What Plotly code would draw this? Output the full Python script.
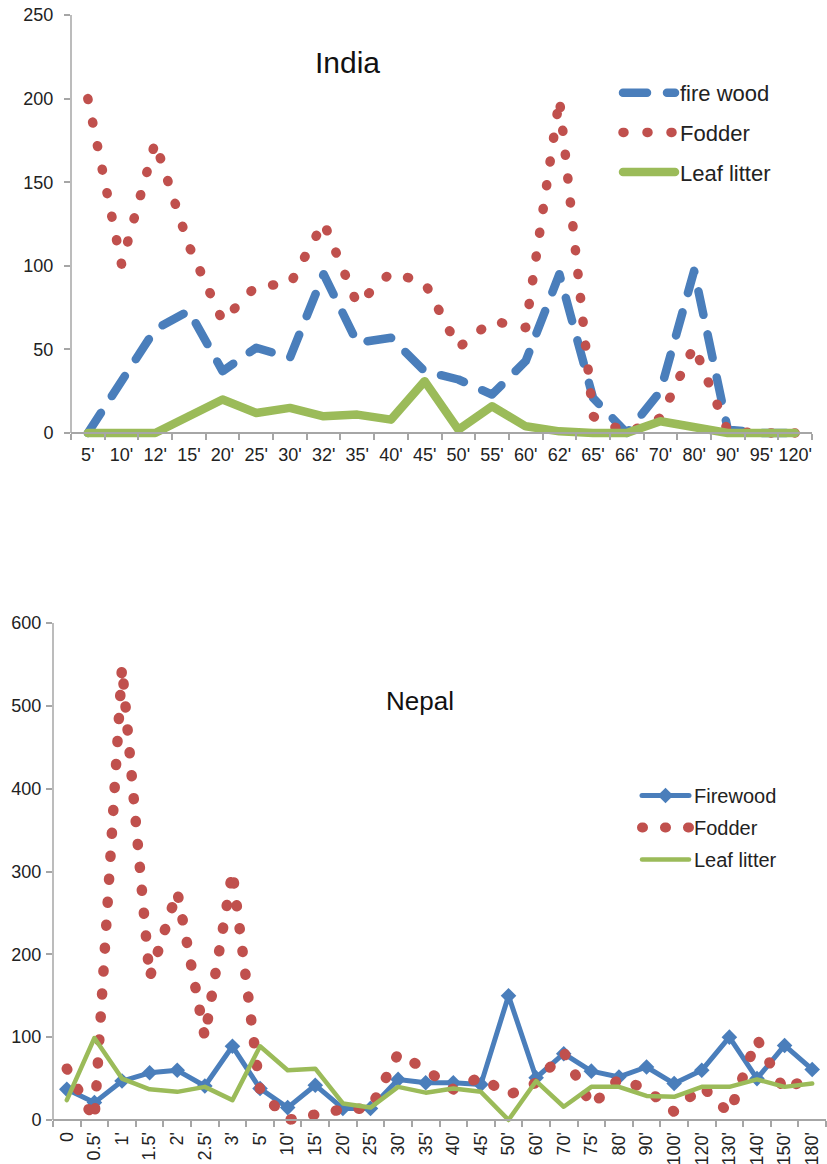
import plotly.graph_objects as go

# ---------------- India ----------------
india_cats = ["5'", "10'", "12'", "15'", "20'", "25'", "30'", "32'", "35'", "40'", "45'",
              "50'", "55'", "60'", "62'", "65'", "66'", "70'", "80'", "90'", "95'", "120'"]
india_firewood = [0, 30, 62, 73, 37, 51, 45, 95, 54, 57, 37, 32, 23, 43, 95, 21, 0, 25, 97, 2, 0, 0]
india_fodder = [200, 101, 174, 112, 67, 88, 89, 126, 77, 96, 90, 51, 67, 63, 200, 10, 0, 9, 52, 1, 0, 0]
india_leaf = [0, 0, 0, 10, 20, 12, 15, 10, 11, 8, 31, 2, 16, 4, 1, 0, 0, 7, 3, 0, 0, 0]

# ---------------- Nepal ----------------
nepal_cats = ["0", "0.5'", "1'", "1.5'", "2'", "2.5'", "3'", "5'", "10'", "15'", "20'", "25'",
              "30'", "35'", "40'", "45'", "50'", "60'", "70'", "75'", "80'", "90'", "100'",
              "120'", "130'", "140'", "150'", "180'"]
nepal_firewood = [37, 21, 47, 57, 60, 41, 89, 38, 15, 42, 14, 14, 49, 45, 45, 43, 150, 51,
                  80, 59, 52, 64, 44, 60, 100, 50, 90, 61]
nepal_fodder = [62, 0, 547, 172, 276, 100, 300, 36, 0, 7, 13, 14, 80, 61, 37, 52, 30, 45,
                82, 17, 50, 37, 10, 41, 8, 98, 35, 55]
nepal_leaf = [24, 99, 50, 37, 34, 40, 24, 89, 60, 62, 20, 15, 40, 33, 38, 34, 0, 47, 16, 40,
              40, 29, 28, 40, 40, 49, 40, 44]

BLUE = "#4A7EBB"
RED = "#C0504D"
GREEN = "#9BBB59"
AXIS = "#A6A6A6"
FONT = "Liberation Sans, Arial, sans-serif"
W, H = 827, 1164


def px(v):
    return 1 - v / H


fig = go.Figure()

# India traces
fig.add_trace(go.Scatter(x=india_cats, y=india_firewood, name="fire wood", mode="lines",
                         line=dict(color=BLUE, width=8.5, dash="24px,20px"),
                         xaxis="x", yaxis="y", legend="legend", legendgroup="a"))
fig.add_trace(go.Scatter(x=india_cats, y=india_fodder, name="Fodder", mode="lines",
                         line=dict(color=RED, width=9.5, dash="1px,23px"),
                         xaxis="x", yaxis="y", legend="legend", legendgroup="b"))
fig.add_trace(go.Scatter(x=india_cats, y=india_leaf, name="Leaf litter", mode="lines",
                         line=dict(color=GREEN, width=8.5),
                         xaxis="x", yaxis="y", legend="legend", legendgroup="c"))

# Nepal traces
fig.add_trace(go.Scatter(x=nepal_cats, y=nepal_firewood, name="Firewood", mode="lines+markers",
                         line=dict(color=BLUE, width=5),
                         marker=dict(symbol="diamond", size=12, color=BLUE),
                         xaxis="x2", yaxis="y2", legend="legend2", legendgroup="d"))
fig.add_trace(go.Scatter(x=nepal_cats, y=nepal_fodder, name="Fodder", mode="lines",
                         line=dict(color=RED, width=10.5, dash="1px,22px"),
                         xaxis="x2", yaxis="y2", legend="legend2", legendgroup="e"))
fig.add_trace(go.Scatter(x=nepal_cats, y=nepal_leaf, name="Leaf litter", mode="lines",
                         line=dict(color=GREEN, width=4.5),
                         xaxis="x2", yaxis="y2", legend="legend2", legendgroup="f"))

# geometry (pixels)
i_left, i_right, i_top, i_zero, i_bot = 71, 812, 15, 433, 441
i_scale = (i_zero - i_top) / 250.0
n_left, n_right, n_top, n_zero, n_bot = 53, 826, 623, 1120, 1127
n_scale = (n_zero - n_top) / 600.0

tickfont = dict(family=FONT, size=18, color="#222222")
common_x = dict(type="category", showline=True, linecolor=AXIS, linewidth=1.5,
                ticks="outside", tickson="boundaries", ticklen=6, tickcolor=AXIS, tickwidth=1.5,
                showgrid=False, zeroline=False, tickfont=tickfont, automargin=False,
                anchor="free")
common_y = dict(showline=False, ticks="outside", ticklen=6, tickcolor=AXIS, tickwidth=1.5,
                showgrid=False, zeroline=False, tickfont=tickfont, automargin=False)

fig.update_layout(
    width=W, height=H, margin=dict(l=0, r=0, t=0, b=0),
    paper_bgcolor="white", plot_bgcolor="rgba(0,0,0,0)",
    template="none",
    font=dict(family=FONT, color="#222222"),
    xaxis=dict(common_x, domain=[i_left / W, i_right / W], range=[-0.5, len(india_cats) - 0.5],
               position=px(i_zero), tickangle=0, ticklabelstandoff=6),
    yaxis=dict(common_y, domain=[px(i_bot), px(i_top)],
               range=[-(i_bot - i_zero) / i_scale, 250], tickvals=[0, 50, 100, 150, 200, 250],
               anchor="x", ticklabelstandoff=7),
    xaxis2=dict(common_x, domain=[n_left / W, n_right / W], range=[-0.5, len(nepal_cats) - 0.5],
                position=px(n_zero), tickangle=-90, ticklabelstandoff=4),
    yaxis2=dict(common_y, domain=[px(n_bot), px(n_top)],
                range=[-(n_bot - n_zero) / n_scale, 600],
                tickvals=[0, 100, 200, 300, 400, 500, 600], anchor="x2", ticklabelstandoff=1),
    legend=dict(x=618 / W, y=px(72), xanchor="left", yanchor="top",
                font=dict(family=FONT, size=22, color="#222222"),
                itemwidth=52, tracegroupgap=8, bgcolor="rgba(0,0,0,0)"),
    legend2=dict(x=637 / W, y=px(776), xanchor="left", yanchor="top",
                 font=dict(family=FONT, size=20, color="#222222"),
                 itemwidth=47, tracegroupgap=3, bgcolor="rgba(0,0,0,0)"),
    showlegend=True,
    shapes=[
        dict(type="line", xref="paper", yref="y", x0=i_left / W, x1=i_left / W, y0=0, y1=250,
             line=dict(color=AXIS, width=1.5)),
        dict(type="line", xref="paper", yref="y2", x0=n_left / W, x1=n_left / W, y0=0, y1=600,
             line=dict(color=AXIS, width=1.5)),
    ],
    annotations=[
        dict(text="India", x=347 / W, y=px(62), xref="paper", yref="paper",
             xanchor="center", yanchor="middle",
             showarrow=False, font=dict(family=FONT, size=30, color="#111111")),
        dict(text="Nepal", x=420 / W, y=px(701), xref="paper", yref="paper",
             xanchor="center", yanchor="middle",
             showarrow=False, font=dict(family=FONT, size=26, color="#111111")),
    ],
)

post = """
var s = document.createElement('style');
s.textContent = 'html, body {margin:0 !important; padding:0 !important;} .scatterlayer .js-line, .legendlines path, .legend .js-line {stroke-linecap: round !important; stroke-linejoin: round !important;}';
document.head.appendChild(s);
"""
fig.write_html("out.html", post_script=post, config={"displayModeBar": False})
